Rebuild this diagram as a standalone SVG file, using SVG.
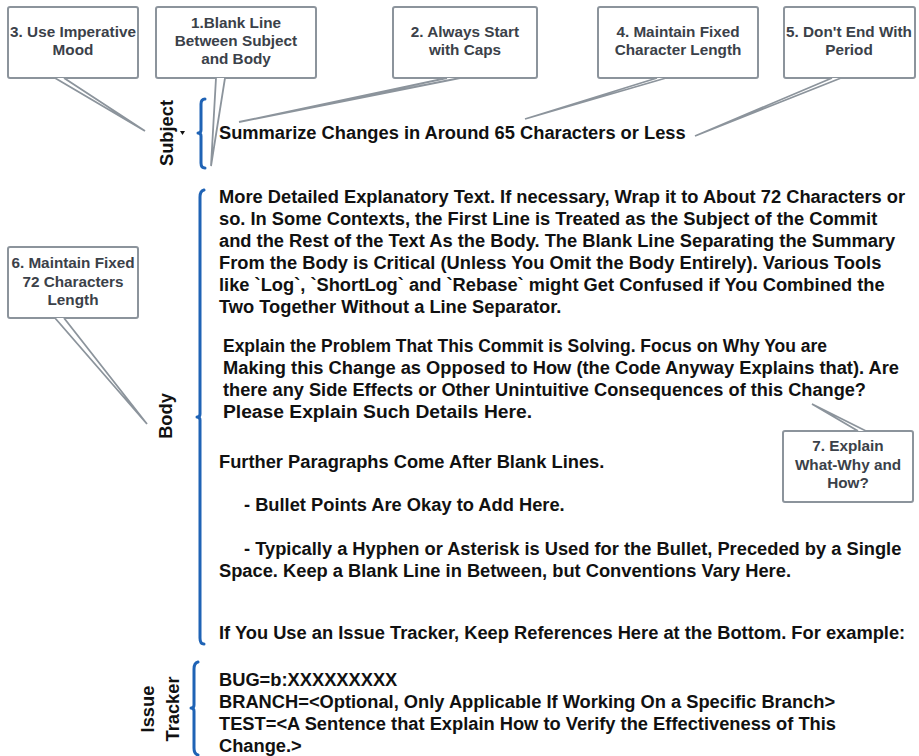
<svg xmlns="http://www.w3.org/2000/svg" width="919" height="756" viewBox="0 0 919 756">
  <style>
    .box { fill: #ffffff; stroke: #8c949c; stroke-width: 2; }
    .tail { fill: #ffffff; stroke: #8c949c; stroke-width: 1.8; stroke-linejoin: miter; }
    .note { font-family: "Liberation Sans", Arial, sans-serif; font-weight: bold; font-size: 15.3px; fill: #3b4149; text-anchor: middle; }
    .body { font-family: "Liberation Sans", Arial, sans-serif; font-weight: bold; font-size: 18.3px; fill: #111111; }
    .lbl { font-family: "Liberation Sans", Arial, sans-serif; font-weight: bold; font-size: 18.3px; fill: #111111; text-anchor: middle; }
    .brace { fill: none; stroke: #1f63b5; stroke-width: 3; stroke-linecap: round; stroke-linejoin: round; }
  </style>

  <rect width="919" height="756" fill="#ffffff"/>

  <!-- braces and section labels -->
  <g id="connectors">
    <path class="brace" d="M205,99 Q201,99 201,104 L201,130 Q201,133 198,133 Q201,133 201,136 L201,163 Q201,168 205,168"/>
    <path class="brace" d="M204,190 Q200,191 200,197 L200,414 Q200,417 197,417 Q200,417 200,420 L200,638 Q200,644 204,644"/>
    <path class="brace" d="M198,662 Q194,663 194,669 L194,705 Q194,708 191,708 Q194,708 194,711 L194,748 Q194,754 198,755"/>
    <path d="M180,131 L185,131 L182.5,135 Z" fill="#111111"/>
  </g>

  <g id="label-subject"><text class="lbl" transform="translate(173,133) rotate(-90)">Subject</text></g>
  <g id="label-body"><text class="lbl" transform="translate(172,416) rotate(-90)">Body</text></g>
  <g id="label-issue"><text class="lbl" transform="translate(154,709) rotate(-90)">Issue</text><text class="lbl" transform="translate(179,709) rotate(-90)">Tracker</text></g>

  <!-- commit message text -->
  <g id="subject-line"><text class="body" x="219" y="139">Summarize Changes in Around 65 Characters or Less</text></g>

  <g id="body-text">
    <text class="body" x="219" y="203">More Detailed Explanatory Text. If necessary, Wrap it to About 72 Characters or</text>
    <text class="body" x="219" y="225">so. In Some Contexts, the First Line is Treated as the Subject of the Commit</text>
    <text class="body" x="219" y="247">and the Rest of the Text As the Body. The Blank Line Separating the Summary</text>
    <text class="body" x="219" y="269">From the Body is Critical (Unless You Omit the Body Entirely). Various Tools</text>
    <text class="body" x="219" y="291">like `Log`, `ShortLog` and `Rebase` might Get Confused if You Combined the</text>
    <text class="body" x="219" y="313">Two Together Without a Line Separator.</text>

    <text class="body" x="223" y="352" textLength="604" lengthAdjust="spacingAndGlyphs">Explain the Problem That This Commit is Solving. Focus on Why You are</text>
    <text class="body" x="223" y="374" textLength="676" lengthAdjust="spacingAndGlyphs">Making this Change as Opposed to How (the Code Anyway Explains that). Are</text>
    <text class="body" x="223" y="396" textLength="643" lengthAdjust="spacingAndGlyphs">there any Side Effects or Other Unintuitive Consequences of this Change?</text>
    <text class="body" x="223" y="418" textLength="309" lengthAdjust="spacingAndGlyphs">Please Explain Such Details Here.</text>

    <text class="body" x="219" y="468">Further Paragraphs Come After Blank Lines.</text>
    <text class="body" x="244" y="511">- Bullet Points Are Okay to Add Here.</text>
    <text class="body" x="244" y="555">- Typically a Hyphen or Asterisk is Used for the Bullet, Preceded by a Single</text>
    <text class="body" x="219" y="577">Space. Keep a Blank Line in Between, but Conventions Vary Here.</text>
    <text class="body" x="219" y="639">If You Use an Issue Tracker, Keep References Here at the Bottom. For example:</text>
  </g>

  <g id="issue-text">
    <text class="body" x="219" y="686">BUG=b:XXXXXXXXX</text>
    <text class="body" x="219" y="708">BRANCH=&lt;Optional, Only Applicable If Working On a Specific Branch&gt;</text>
    <text class="body" x="219" y="730">TEST=&lt;A Sentence that Explain How to Verify the Effectiveness of This</text>
    <text class="body" x="219" y="752">Change.&gt;</text>
  </g>

  <!-- callouts -->
  <g id="note-3">
    <rect class="box" x="8" y="7" width="130" height="71" rx="2"/>
    <path class="tail" d="M55,78 L145,131 L64,78"/>
    <text class="note"><tspan x="73" y="37">3. Use Imperative</tspan><tspan x="73" y="55">Mood</tspan></text>
  </g>
  <g id="note-1">
    <rect class="box" x="156" y="7" width="160" height="71" rx="2"/>
    <path class="tail" d="M216,78 L211,166 L225,78"/>
    <text class="note"><tspan x="236" y="28">1.Blank Line</tspan><tspan x="236" y="46">Between Subject</tspan><tspan x="236" y="64">and Body</tspan></text>
  </g>
  <g id="note-2">
    <rect class="box" x="393" y="7" width="144" height="71" rx="2"/>
    <path class="tail" d="M447,78 L239,122 L460,78"/>
    <text class="note"><tspan x="465" y="37">2. Always Start</tspan><tspan x="465" y="55">with Caps</tspan></text>
  </g>
  <g id="note-4">
    <rect class="box" x="598" y="7" width="160" height="71" rx="2"/>
    <path class="tail" d="M657,78 L525,119 L666,78"/>
    <text class="note"><tspan x="678" y="37">4. Maintain Fixed</tspan><tspan x="678" y="55">Character Length</tspan></text>
  </g>
  <g id="note-5">
    <rect class="box" x="784" y="7" width="131" height="71" rx="2"/>
    <path class="tail" d="M832,78 L695,136 L841,78"/>
    <text class="note"><tspan x="849" y="37">5. Don't End With</tspan><tspan x="849" y="55">Period</tspan></text>
  </g>
  <g id="note-6">
    <rect class="box" x="8" y="247" width="130" height="71" rx="2"/>
    <path class="tail" d="M55,318 L147,424 L64,318"/>
    <text class="note"><tspan x="73" y="268">6. Maintain Fixed</tspan><tspan x="73" y="287">72 Characters</tspan><tspan x="73" y="305">Length</tspan></text>
  </g>
  <g id="note-7">
    <rect class="box" x="783" y="431" width="130" height="71" rx="2"/>
    <path class="tail" d="M858,431 L812,404 L866,431"/>
    <text class="note"><tspan x="848" y="451">7. Explain</tspan><tspan x="848" y="470">What-Why and</tspan><tspan x="848" y="488">How?</tspan></text>
  </g>
</svg>
